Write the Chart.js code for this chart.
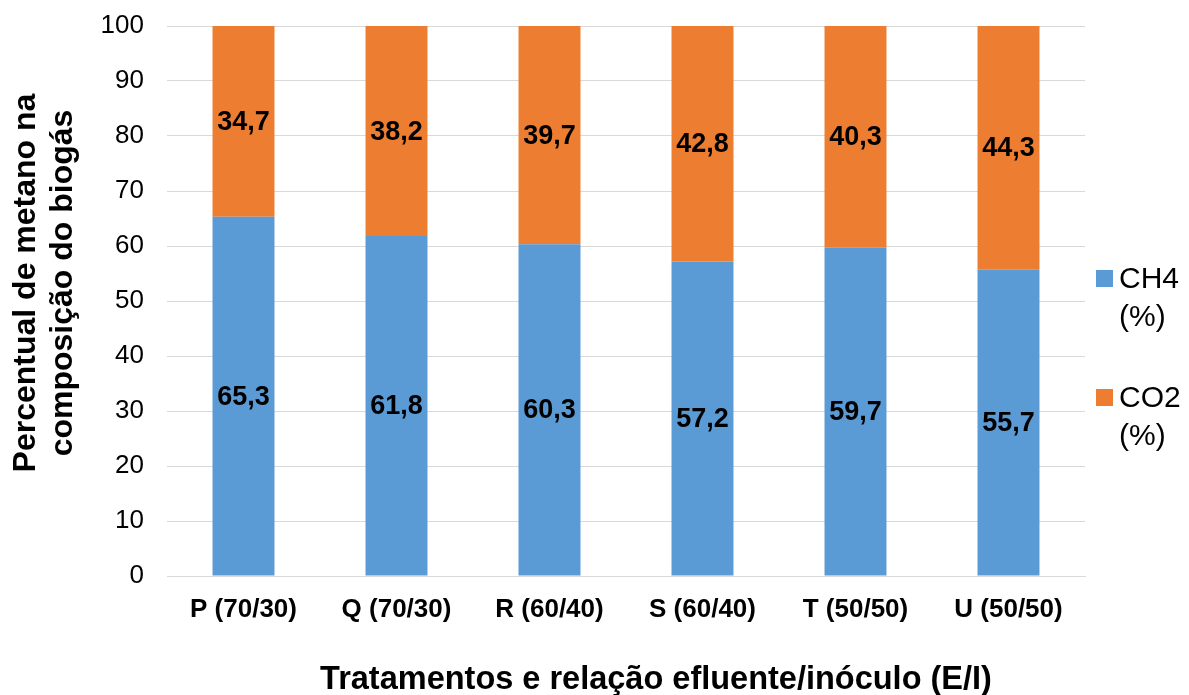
<!DOCTYPE html>
<html>
<head>
<meta charset="utf-8">
<script src="https://cdn.jsdelivr.net/npm/chart.js@4"></script>
<style>
  html, body { margin: 0; padding: 0; background: #ffffff; }
  #wrap { width: 1189px; height: 695px; position: relative; }
</style>
</head>
<body>
<div id="wrap"><canvas id="biogas-chart"></canvas></div>
<script>
// Tratamentos e valores (%)
const categories = ['P (70/30)', 'Q (70/30)', 'R (60/40)', 'S (60/40)', 'T (50/50)', 'U (50/50)'];
const ch4Values = [65.3, 61.8, 60.3, 57.2, 59.7, 55.7];
const co2Values = [34.7, 38.2, 39.7, 42.8, 40.3, 44.3];
const yTicks = [0, 10, 20, 30, 40, 50, 60, 70, 80, 90, 100];
const legendLabels = [['CH4', '(%)'], ['CO2', '(%)']];
const yTitle = ['Percentual de metano na', 'composição do biogás'];
const xTitle = 'Tratamentos e relação efluente/inóculo (E/I)';

const FONT = 'Liberation Sans, Arial, sans-serif';
const BLUE = '#5b9bd5';
const ORANGE = '#ed7d31';

// Rótulos de valor no centro de cada segmento
const valueLabels = {
    id: 'valueLabels',
    afterDatasetsDraw(chart) {
        const ctx = chart.ctx;
        ctx.save();
        ctx.font = 'bold 27px ' + FONT;
        ctx.fillStyle = '#000000';
        ctx.textAlign = 'center';
        ctx.textBaseline = 'middle';
        chart.data.datasets.forEach((ds, i) => {
            const meta = chart.getDatasetMeta(i);
            meta.data.forEach((bar, j) => {
                const p = bar.getProps(['x', 'y', 'base'], true);
                const txt = ds.data[j].toFixed(1).replace('.', ',');
                ctx.fillText(txt, p.x, (p.y + p.base) / 2 + 1);
            });
        });
        ctx.restore();
    }
};

// Legenda à direita (duas linhas) e títulos dos eixos
const sideDecor = {
    id: 'sideDecor',
    afterDraw(chart) {
        const ctx = chart.ctx;
        ctx.save();
        ctx.font = '30px ' + FONT;
        ctx.textBaseline = 'middle';
        ctx.textAlign = 'left';
        const tops = [278, 397];
        chart.data.datasets.forEach((ds, i) => {
            const y = tops[i];
            ctx.fillStyle = ds.backgroundColor;
            ctx.fillRect(1096, y - 8, 17, 17);
            ctx.fillStyle = '#000000';
            legendLabels[i].forEach((line, k) => {
                ctx.fillText(line, 1119, y + 2 + k * 38);
            });
        });

        ctx.font = 'bold 32.5px ' + FONT;
        ctx.textAlign = 'center';
        ctx.textBaseline = 'alphabetic';
        ctx.fillText(xTitle, 656, 689);

        ctx.font = 'bold 32px ' + FONT;
        const baselines = [35, 72];
        yTitle.forEach((line, k) => {
            ctx.save();
            ctx.translate(baselines[k], 283);
            ctx.rotate(-Math.PI / 2);
            ctx.fillText(line, 0, 0);
            ctx.restore();
        });
        ctx.restore();
    }
};

const ctx = document.getElementById('biogas-chart').getContext('2d');
new Chart(ctx, {
    type: 'bar',
    data: {
        labels: categories,
        datasets: [
            { label: 'CH4 (%)', data: ch4Values, backgroundColor: BLUE, borderWidth: 0 },
            { label: 'CO2 (%)', data: co2Values, backgroundColor: ORANGE, borderWidth: 0 }
        ]
    },
    options: {
        responsive: true,
        maintainAspectRatio: false,
        animation: false,
        categoryPercentage: 1,
        barPercentage: 0.405,
        layout: { padding: { left: 0, right: 104, top: 26, bottom: 0 } },
        plugins: {
            legend: { display: false },
            tooltip: { enabled: false }
        },
        scales: {
            x: {
                stacked: true,
                grid: { display: false },
                border: { display: true, color: '#d9d9d9', width: 1 },
                ticks: {
                    color: '#000000',
                    font: { family: FONT, size: 26, weight: 'bold' },
                    padding: 10,
                    maxRotation: 0
                },
                afterFit(scale) { scale.height = 119; }
            },
            y: {
                stacked: true,
                min: 0,
                max: 100,
                afterBuildTicks(scale) { scale.ticks = yTicks.map(v => ({ value: v })); },
                grid: { color: '#d9d9d9', lineWidth: 1, drawTicks: false },
                border: { display: false },
                ticks: {
                    color: '#000000',
                    font: { family: FONT, size: 26 },
                    padding: 23
                },
                afterFit(scale) {
                    scale.width = 167;
                    scale.paddingTop = 0;
                    scale.paddingBottom = 0;
                }
            }
        }
    },
    plugins: [valueLabels, sideDecor]
});
</script>
</body>
</html>
